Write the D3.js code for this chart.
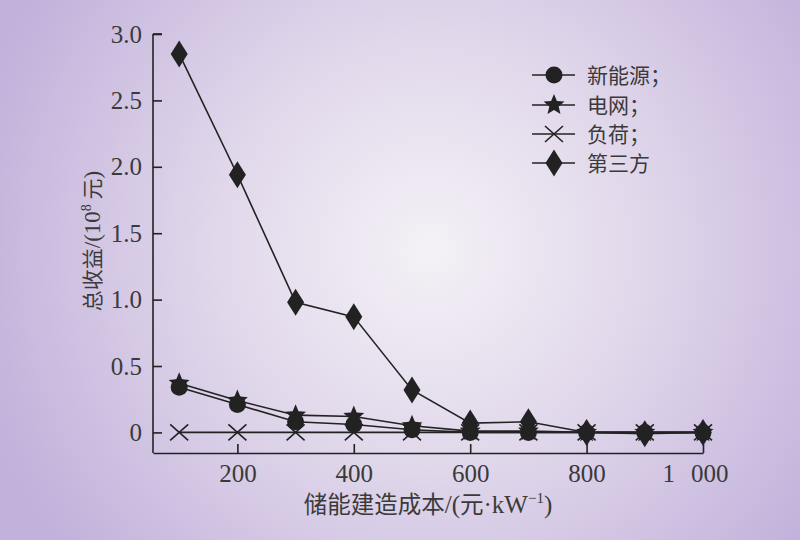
<!DOCTYPE html>
<html><head><meta charset="utf-8">
<script src="https://cdn.jsdelivr.net/npm/d3@7"></script>
<style>body{margin:0;}svg{display:block;}</style>
</head><body>
<script>
const costs = [100, 200, 300, 400, 500, 600, 700, 800, 900, 1000];
const seriesNames = ["新能源；", "电网；", "负荷；", "第三方"];
const newEnergy = [0.34, 0.21, 0.08, 0.06, 0.02, 0.0, 0.0, 0.0, 0.0, 0.0];
const grid = [0.37, 0.24, 0.13, 0.12, 0.05, 0.01, 0.01, 0.0, 0.0, 0.0];
const load = [0, 0, 0, 0, 0, 0, 0, 0, 0, 0];
const thirdParty = [2.85, 1.94, 0.98, 0.87, 0.32, 0.07, 0.08, 0.0, -0.01, 0.0];
const xTicks = [200, 400, 600, 800, 1000];
const xTickLabels = ["200", "400", "600", "800", "1 000"];
const yTicks = [0, 0.5, 1.0, 1.5, 2.0, 2.5, 3.0];
const yTickLabels = ["0", "0.5", "1.0", "1.5", "2.0", "2.5", "3.0"];

const W = 800, H = 540;
const svg = d3.select("body").append("svg").attr("width", W).attr("height", H);
const defs = svg.append("defs");
const rg = defs.append("radialGradient").attr("id", "bg")
  .attr("gradientUnits", "userSpaceOnUse").attr("cx", 430).attr("cy", 250).attr("r", 470);
rg.append("stop").attr("offset", "0").attr("stop-color", "#f4f1f6");
rg.append("stop").attr("offset", "0.45").attr("stop-color", "#e1d8eb");
rg.append("stop").attr("offset", "1").attr("stop-color", "#c2b1db");
svg.append("rect").attr("width", W).attr("height", H).attr("fill", "url(#bg)");

const x = d3.scaleLinear().domain([55, 1000]).range([153, 703]);
const y = d3.scaleLinear().domain([-0.155, 3.0]).range([453, 34]);
const ink = "#222";
const textCol = "#3a3a3a";
const serif = "'Liberation Serif','Times New Roman',serif";
const cjk = "'Noto Sans CJK SC',sans-serif";

// axes
const xAxis = d3.axisBottom(x).tickValues(xTicks).tickSizeInner(-9).tickSizeOuter(0)
  .tickFormat((d, i) => xTickLabels[i]).tickPadding(11);
const gx = svg.append("g").attr("transform", `translate(0,${y.range()[0]})`).call(xAxis);
const yAxis = d3.axisLeft(y).tickValues(yTicks).tickSizeInner(-9).tickSizeOuter(0)
  .tickFormat((d, i) => yTickLabels[i]).tickPadding(11);
const gy = svg.append("g").attr("transform", `translate(${x.range()[0]},0)`).call(yAxis);
[gx, gy].forEach(g => {
  g.select(".domain").attr("stroke", ink).attr("stroke-width", 1.6);
  g.selectAll(".tick line").attr("stroke", ink).attr("stroke-width", 1.6);
  g.selectAll(".tick text").attr("fill", textCol).style("font-family", serif).style("font-size", "25px");
});
gy.select(".domain").attr("d", `M0,${y.range()[0]}V${y(3.0)}`);
gy.append("line").attr("x1", 0).attr("x2", 9).attr("y1", y(3.0)).attr("y2", y(3.0)).attr("stroke", ink).attr("stroke-width", 1.6);
// "1 000" label with a wide thousands gap
gx.selectAll(".tick text").filter(d => d === 1000).each(function (d) {
  const t = d3.select(this);
  const parts = xTickLabels[xTicks.indexOf(d)].split(" ");
  t.text(null).attr("dx", -8);
  t.append("tspan").text(parts[0]);
  t.append("tspan").attr("dx", 16).text(parts[1]);
});

// axis titles
svg.append("text").attr("x", 428).attr("y", 513).attr("text-anchor", "middle")
  .attr("fill", textCol).style("font-size", "23.5px")
  .html(`<tspan style="font-family:${cjk}">储能建造成本</tspan><tspan style="font-family:${serif};font-size:25px">/(</tspan><tspan style="font-family:${cjk}">元</tspan><tspan style="font-family:${serif};font-size:25px">·kW</tspan><tspan style="font-family:${serif};font-size:15px" dy="-10">−1</tspan><tspan style="font-family:${serif};font-size:25px" dy="10">)</tspan>`);
svg.append("text").attr("transform", "translate(100,241) rotate(-90)").attr("text-anchor", "middle")
  .attr("fill", textCol).style("font-size", "21px")
  .html(`<tspan style="font-family:${cjk}">总收益</tspan><tspan style="font-family:${serif};font-size:23px">/(10</tspan><tspan style="font-family:${serif};font-size:14px" dy="-9">8</tspan><tspan style="font-family:${cjk}" dy="9"> 元</tspan><tspan style="font-family:${serif};font-size:23px">)</tspan>`);

// markers
function starPath(r) {
  const pts = [];
  for (let i = 0; i < 10; i++) {
    const a = -Math.PI / 2 + i * Math.PI / 5;
    const rr = i % 2 === 0 ? r : r * 0.45;
    pts.push([rr * Math.cos(a), rr * Math.sin(a)]);
  }
  return "M" + pts.map(p => p.join(",")).join("L") + "Z";
}
const markers = [
  g => g.append("circle").attr("r", 8.5).attr("fill", ink),
  g => g.append("path").attr("d", starPath(11)).attr("fill", ink),
  g => g.append("path").attr("d", "M-9,-8L9,8M-9,8L9,-8").attr("stroke", ink).attr("stroke-width", 1.6).attr("fill", "none"),
  g => g.append("path").attr("d", "M0,-13.5L8.5,0L0,13.5L-8.5,0Z").attr("fill", ink)
];
const allSeries = [newEnergy, grid, load, thirdParty];
const line = d3.line().x((d, i) => x(costs[i])).y(d => y(d));
const drawOrder = [2, 3, 1, 0];
drawOrder.forEach(k => {
  svg.append("path").datum(allSeries[k]).attr("d", line).attr("fill", "none")
    .attr("stroke", ink).attr("stroke-width", 1.6);
});
drawOrder.forEach(k => {
  allSeries[k].forEach((v, i) => {
    const g = svg.append("g").attr("transform", `translate(${x(costs[i])},${y(v)})`);
    markers[k](g);
  });
});

// legend
const legY = [75, 105, 134, 163];
seriesNames.forEach((name, k) => {
  const g = svg.append("g").attr("transform", `translate(0,${legY[k]})`);
  g.append("line").attr("x1", 532).attr("x2", 575).attr("stroke", ink).attr("stroke-width", 1.6);
  const m = g.append("g").attr("transform", "translate(554,0)");
  markers[k](m);
  g.append("text").attr("x", 587).attr("y", 0).attr("dy", "0.36em").attr("fill", textCol)
    .style("font-family", cjk).style("font-size", "21px").text(name);
});
</script>
</body></html>
